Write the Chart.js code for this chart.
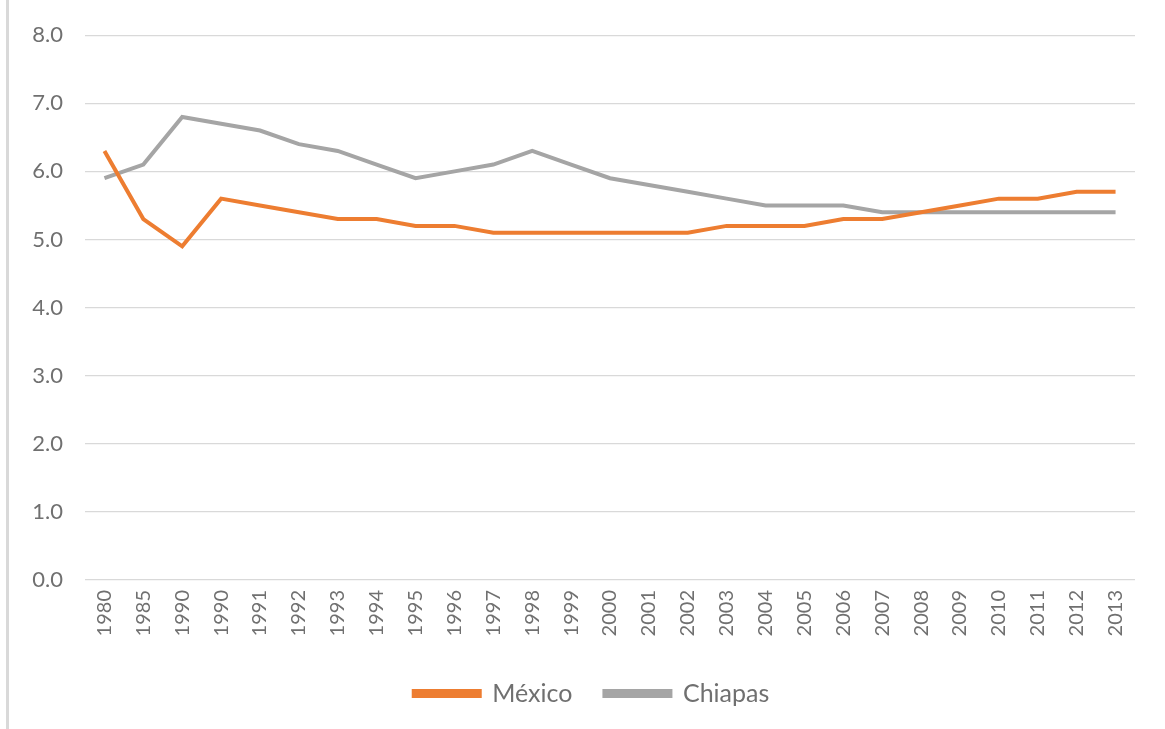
<!DOCTYPE html>
<html>
<head>
<meta charset="utf-8">
<script src="https://cdn.jsdelivr.net/npm/chart.js@4/dist/chart.umd.min.js"></script>
<style>
  html, body { margin: 0; padding: 0; background: #fff; }
  #wrap { position: relative; width: 1165px; height: 729px; }
  #edge { position: absolute; left: 6px; top: 0; width: 3px; height: 729px; background: #d9d9d9; }
  canvas { position: absolute; left: 0; top: 0; }
</style>
</head>
<body>
<div id="wrap">
  <div id="edge"></div>
  <canvas id="lineChart" width="1165" height="729"></canvas>
</div>
<script>
// years as printed on the axis (1990 appears twice in the source)
const years = ['1980', '1985', '1990', '1990', '1991', '1992', '1993', '1994', '1995', '1996',
    '1997', '1998', '1999', '2000', '2001', '2002', '2003', '2004', '2005', '2006',
    '2007', '2008', '2009', '2010', '2011', '2012', '2013'];

const mexico = [6.3, 5.3, 4.9, 5.6, 5.5, 5.4, 5.3, 5.3, 5.2, 5.2,
    5.1, 5.1, 5.1, 5.1, 5.1, 5.1, 5.2, 5.2, 5.2, 5.3,
    5.3, 5.4, 5.5, 5.6, 5.6, 5.7, 5.7];

const chiapas = [5.9, 6.1, 6.8, 6.7, 6.6, 6.4, 6.3, 6.1, 5.9, 6.0,
    6.1, 6.3, 6.1, 5.9, 5.8, 5.7, 5.6, 5.5, 5.5, 5.5,
    5.4, 5.4, 5.4, 5.4, 5.4, 5.4, 5.4];

const yTicks = [0, 1, 2, 3, 4, 5, 6, 7, 8];

const fontFamily = 'Lato, "Open Sans", sans-serif';
const textColor = '#707070';

// nudge the legend a bit right / up, the original isn't centred on the canvas
const legendShift = {
    id: 'legendShift',
    afterLayout(chart) {
        const lg = chart.legend;
        lg.left += 24; lg.right += 24;
        lg.top -= 13; lg.bottom -= 13;
    }
};

let ctx = document.getElementById('lineChart').getContext('2d');

let lineChart = new Chart(ctx, {
    type: 'line',
    data: {
        labels: years,
        datasets: [{
            label: 'México',
            data: mexico,
            borderColor: '#ED7D31',
            backgroundColor: '#ED7D31',
            borderWidth: 4,
            pointRadius: 0,
            tension: 0
        }, {
            label: 'Chiapas',
            data: chiapas,
            borderColor: '#A5A5A5',
            backgroundColor: '#A5A5A5',
            borderWidth: 4,
            pointRadius: 0,
            tension: 0
        }]
    },
    options: {
        responsive: false,
        animation: false,
        layout: {
            padding: { left: 0, right: 30, top: 23, bottom: 0 }
        },
        plugins: {
            tooltip: { enabled: false },
            legend: {
                position: 'bottom',
                labels: {
                    boxWidth: 66,
                    boxHeight: 5,
                    padding: 32,
                    color: textColor,
                    font: { family: fontFamily, size: 25 }
                }
            }
        },
        scales: {
            x: {
                offset: true,
                grid: { display: false, drawTicks: false },
                border: { display: false },
                ticks: {
                    color: textColor,
                    minRotation: 90,
                    maxRotation: 90,
                    autoSkip: false,
                    padding: 10,
                    font: { family: fontFamily, size: 20 }
                },
                afterFit: function (scale) { scale.height = 82; }
            },
            y: {
                min: 0,
                max: 8,
                afterBuildTicks: function (scale) {
                    scale.ticks = yTicks.map(v => ({ value: v }));
                },
                grid: { color: '#d9d9d9', lineWidth: 1.3, drawTicks: false },
                border: { display: false },
                ticks: {
                    color: textColor,
                    padding: 22,
                    font: { family: fontFamily, size: 22 },
                    callback: v => v.toFixed(1)
                },
                afterFit: function (scale) { scale.width = 85; }
            }
        }
    },
    plugins: [legendShift]
});
</script>
</body>
</html>
